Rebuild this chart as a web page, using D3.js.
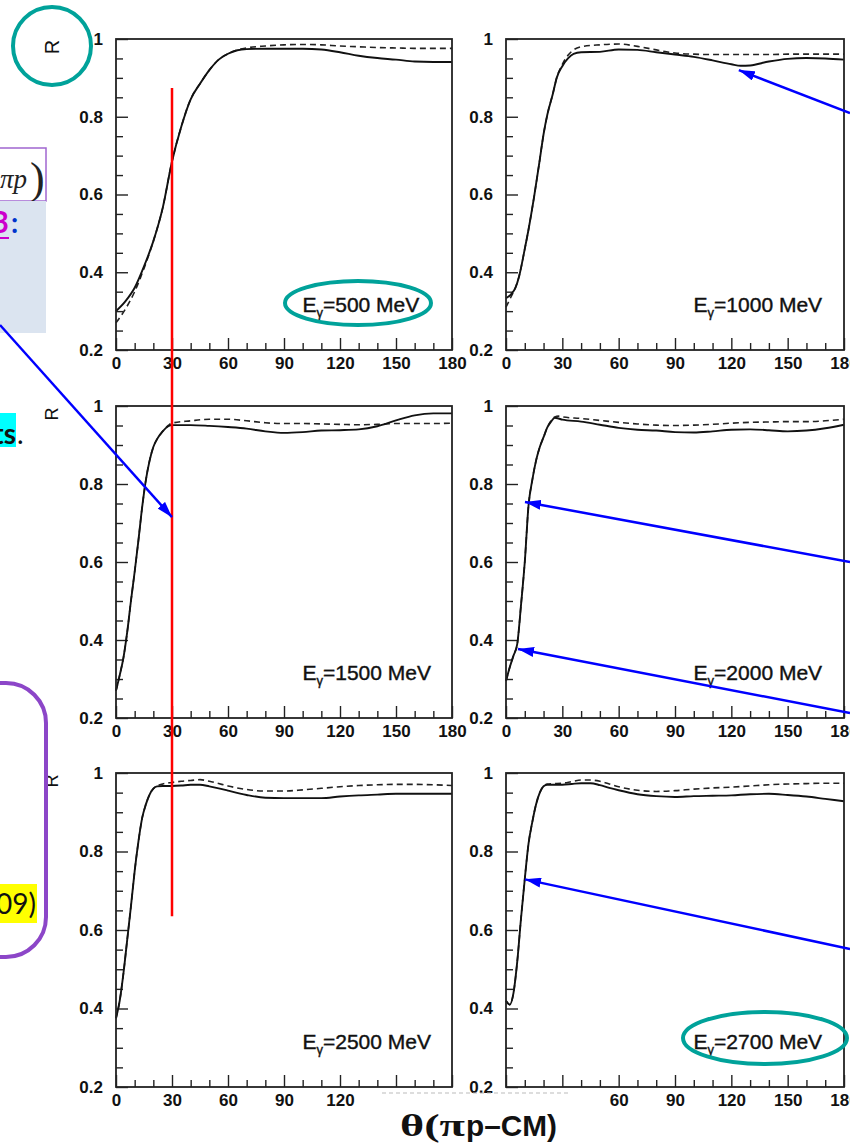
<!DOCTYPE html>
<html><head><meta charset="utf-8">
<script src="https://cdn.jsdelivr.net/npm/d3@7"></script>
<style>html,body{margin:0;padding:0;background:#fff;}svg{display:block;}</style>
</head><body>
<script>
// ---------- data ----------
const energies = [500, 1000, 1500, 2000, 2500, 2700];

const theta500  = [0,5,10,15,20,25,30,35,40,45,50,55,60,65,70,80,90,100,110,120,130,140,150,160,170,180];
const solid500  = [0.300,0.325,0.360,0.415,0.480,0.565,0.685,0.775,0.845,0.885,0.920,0.947,0.962,0.971,0.974,0.975,0.975,0.975,0.973,0.966,0.957,0.951,0.947,0.942,0.941,0.941];
const dashed500 = [0.270,0.305,0.350,0.410,0.480,0.565,0.685,0.775,0.845,0.885,0.920,0.947,0.962,0.972,0.977,0.982,0.985,0.986,0.985,0.982,0.980,0.978,0.977,0.976,0.976,0.976];

const theta1000  = [0,3,5,7,10,12,15,18,20,22,25,27,30,33,36,40,50,60,70,80,90,100,110,120,125,130,140,150,160,170,180];
const solid1000  = [0.333,0.345,0.360,0.390,0.460,0.510,0.595,0.690,0.755,0.805,0.860,0.900,0.930,0.950,0.962,0.966,0.967,0.973,0.972,0.966,0.960,0.954,0.945,0.935,0.931,0.932,0.942,0.949,0.951,0.950,0.947];
const dashed1000 = [0.310,0.340,0.360,0.390,0.460,0.510,0.595,0.690,0.755,0.805,0.860,0.900,0.935,0.958,0.972,0.980,0.985,0.987,0.981,0.972,0.964,0.961,0.960,0.960,0.960,0.960,0.960,0.961,0.961,0.961,0.961];

const theta1500  = [0,2,4,6,8,10,12,14,16,18,20,22,25,28,30,40,50,60,70,80,90,100,110,120,130,140,150,160,170,180];
const solid1500  = [0.270,0.310,0.355,0.420,0.500,0.575,0.655,0.740,0.810,0.860,0.895,0.915,0.935,0.948,0.951,0.951,0.949,0.946,0.942,0.935,0.931,0.933,0.937,0.938,0.940,0.948,0.963,0.976,0.981,0.981];
const dashed1500 = [0.270,0.310,0.355,0.420,0.500,0.575,0.655,0.740,0.810,0.860,0.895,0.915,0.935,0.950,0.956,0.962,0.966,0.966,0.962,0.957,0.955,0.955,0.954,0.953,0.952,0.953,0.955,0.955,0.955,0.956];

const theta2000  = [0,2,4,6,8,10,12,14,16,18,20,22,24,26,28,30,40,50,60,70,80,90,100,110,120,130,140,150,160,170,180];
const solid2000  = [0.295,0.330,0.360,0.390,0.490,0.600,0.745,0.810,0.860,0.895,0.920,0.945,0.960,0.970,0.968,0.965,0.960,0.952,0.944,0.939,0.937,0.933,0.932,0.935,0.939,0.940,0.938,0.935,0.937,0.943,0.952];
const dashed2000 = [0.295,0.330,0.360,0.390,0.490,0.600,0.745,0.810,0.860,0.895,0.920,0.945,0.962,0.972,0.974,0.972,0.968,0.963,0.958,0.954,0.951,0.950,0.951,0.953,0.956,0.958,0.959,0.960,0.960,0.962,0.966];

const theta2500  = [0,2,4,6,8,10,12,14,16,18,20,22,25,30,35,40,45,50,55,60,70,80,90,100,110,120,130,140,150,160,170,180];
const solid2500  = [0.375,0.420,0.490,0.575,0.660,0.750,0.825,0.885,0.920,0.945,0.960,0.966,0.967,0.967,0.968,0.970,0.970,0.966,0.961,0.955,0.944,0.937,0.936,0.936,0.936,0.940,0.943,0.945,0.947,0.947,0.947,0.947];
const dashed2500 = [0.375,0.420,0.490,0.575,0.660,0.750,0.825,0.885,0.920,0.945,0.960,0.967,0.972,0.976,0.979,0.981,0.983,0.979,0.973,0.967,0.958,0.954,0.954,0.957,0.961,0.965,0.968,0.970,0.971,0.971,0.970,0.968];

const theta2700  = [0,2,4,6,8,10,12,14,16,18,20,22,25,30,35,40,45,50,55,60,70,80,90,100,110,120,130,140,150,160,170,180];
const solid2700  = [0.420,0.410,0.440,0.520,0.630,0.730,0.820,0.875,0.920,0.950,0.966,0.970,0.970,0.970,0.972,0.974,0.974,0.969,0.962,0.956,0.946,0.941,0.939,0.941,0.942,0.943,0.946,0.947,0.944,0.940,0.934,0.928];
const dashed2700 = [0.420,0.410,0.440,0.520,0.630,0.730,0.820,0.875,0.920,0.950,0.966,0.972,0.973,0.974,0.978,0.982,0.982,0.979,0.972,0.965,0.956,0.953,0.955,0.959,0.962,0.964,0.967,0.970,0.972,0.973,0.974,0.974];

const thetaSets  = [theta500, theta1000, theta1500, theta2000, theta2500, theta2700];
const solidSets  = [solid500, solid1000, solid1500, solid2000, solid2500, solid2700];
const dashedSets = [dashed500, dashed1000, dashed1500, dashed2000, dashed2500, dashed2700];

const xMajorTicks = [0,30,60,90,120,150,180];
const xMinorTicks = [10,20,40,50,70,80,100,110,130,140,160,170];
const yMajorTicks = [0.2,0.4,0.6,0.8,1];
const yMinorTicks = [0.25,0.3,0.35,0.45,0.5,0.55,0.65,0.7,0.75,0.85,0.9,0.95];

// ---------- layout ----------
const W = 850, H = 1146;
const cols = [[116,452],[506,844]];
const rows = [[39,350],[406,718],[773,1087]];
const teal = "#00a29a", purple = "#8c46c8", blue = "#0000ff";

const svg = d3.select("body").append("svg").attr("width", W).attr("height", H);
svg.append("rect").attr("width", W).attr("height", H).attr("fill", "#fff");

const scales = [];
energies.forEach((E, i) => {
  const c = cols[i % 2], r = rows[Math.floor(i / 2)];
  const x = d3.scaleLinear().domain([0,180]).range(c);
  const y = d3.scaleLinear().domain([0.2,1]).range([r[1], r[0]]);
  scales.push({x, y});
  const g = svg.append("g");

  // minor ticks
  g.append("g").attr("transform", `translate(0,${r[1]})`)
    .call(d3.axisBottom(x).tickValues(xMinorTicks).tickSize(-7).tickFormat(""))
    .call(a => a.select(".domain").remove());
  g.append("g").attr("transform", `translate(${c[0]},0)`)
    .call(d3.axisLeft(y).tickValues(yMinorTicks).tickSize(-7).tickFormat(""))
    .call(a => a.select(".domain").remove());
  // major ticks
  const xa = g.append("g").attr("transform", `translate(0,${r[1]})`)
    .call(d3.axisBottom(x).tickValues(xMajorTicks).tickSize(-12).tickPadding(7).tickFormat(d3.format("d")));
  xa.select(".domain").remove();
  const ya = g.append("g").attr("transform", `translate(${c[0]},0)`)
    .call(d3.axisLeft(y).tickValues(yMajorTicks).tickSize(-12).tickPadding(13)
      .tickFormat(d => d === 1 ? "1" : d3.format(".1f")(d)));
  ya.select(".domain").remove();
  g.selectAll(".tick line").attr("stroke", "#222").attr("stroke-width", 1.4);
  g.selectAll(".tick text").attr("font-family", "Liberation Sans, Arial, sans-serif")
    .attr("font-size", 17).attr("font-weight", "bold").attr("fill", "#111");

  // curves
  const th = thetaSets[i];
  const line = d3.line().x(d => x(d[0])).y(d => y(d[1])).curve(d3.curveMonotoneX);
  g.append("path").datum(th.map((t, k) => [t, dashedSets[i][k]]))
    .attr("d", line).attr("fill", "none").attr("stroke", "#222")
    .attr("stroke-width", 1.6).attr("stroke-dasharray", "6,4");
  g.append("path").datum(th.map((t, k) => [t, solidSets[i][k]]))
    .attr("d", line).attr("fill", "none").attr("stroke", "#111").attr("stroke-width", 1.9);

  // frame
  g.append("rect").attr("x", c[0]).attr("y", r[0]).attr("width", c[1] - c[0]).attr("height", r[1] - r[0])
    .attr("fill", "none").attr("stroke", "#222").attr("stroke-width", 1.8);

  // energy label
  const lt = g.append("text").attr("x", c[0] + 0.555 * (c[1] - c[0])).attr("y", r[1] - 38.5)
    .attr("font-family", "Liberation Sans, Arial, sans-serif").attr("font-size", 21)
    .attr("fill", "#111").attr("stroke", "#111").attr("stroke-width", 0.4);
  lt.append("tspan").text("E");
  lt.append("tspan").attr("font-size", 13).attr("dy", 5).text("γ");
  lt.append("tspan").attr("dy", -5).text("=" + E + " MeV");

  // y title R
  if (i % 2 === 0) {
    svg.append("text").attr("transform", `translate(52,${r[0] + 8}) rotate(-90)`)
      .attr("text-anchor", "middle").attr("dominant-baseline", "central")
      .attr("font-family", "Liberation Sans, Arial, sans-serif").attr("font-size", i === 0 ? 20 : 18)
      .attr("fill", "#111").text("R");
  }
});

// ---------- slide annotations ----------
// white text box covering bottom labels + axis title
svg.append("rect").attr("x", 380).attr("y", 1093).attr("width", 222).attr("height", 60).attr("fill", "#fff");
svg.append("line").attr("x1", 382).attr("x2", 570).attr("y1", 1093).attr("y2", 1093)
  .attr("stroke", "#bbb").attr("stroke-width", 1).attr("stroke-dasharray", "4,3");
svg.append("text").attr("x", 400).attr("y", 1136).attr("textLength", 65).attr("lengthAdjust", "spacingAndGlyphs")
  .attr("font-family", "Liberation Serif, serif").attr("font-weight", "bold").attr("font-size", 31)
  .attr("fill", "#111").text("θ(π");
svg.append("text").attr("x", 466).attr("y", 1136).attr("textLength", 91).attr("lengthAdjust", "spacingAndGlyphs")
  .attr("font-family", "Liberation Sans, Arial, sans-serif").attr("font-weight", "bold").attr("font-size", 30)
  .attr("fill", "#111").text("p–CM)");

// left side slide fragments
svg.append("rect").attr("x", -10).attr("y", 148).attr("width", 56).attr("height", 53)
  .attr("fill", "#fff").attr("stroke", "#a066d0").attr("stroke-width", 1.5);
svg.append("text").attr("x", 27).attr("y", 188).attr("text-anchor", "end")
  .attr("font-family", "Liberation Serif, serif").attr("font-style", "italic").attr("font-size", 27)
  .attr("fill", "#222").text("πp");
svg.append("text").attr("x", 30).attr("y", 193)
  .attr("font-family", "Liberation Serif, serif").attr("font-size", 44).attr("fill", "#222").text(")");
svg.append("rect").attr("x", 0).attr("y", 201).attr("width", 46).attr("height", 132).attr("fill", "#dbe4f0");
svg.append("text").attr("x", 9).attr("y", 233).attr("text-anchor", "end")
  .attr("font-family", "Lato, sans-serif").attr("font-weight", "bold").attr("font-size", 30)
  .attr("fill", "#cc00cc").text("3");
svg.append("line").attr("x1", 0).attr("x2", 9).attr("y1", 238).attr("y2", 238).attr("stroke", "#cc00cc").attr("stroke-width", 2);
svg.append("text").attr("x", 11).attr("y", 233)
  .attr("font-family", "Lato, sans-serif").attr("font-weight", "bold").attr("font-size", 28)
  .attr("fill", "#0033cc").text(":");

svg.append("rect").attr("x", 0).attr("y", 413).attr("width", 16).attr("height", 34).attr("fill", "#00ffff");
svg.append("text").attr("x", 16).attr("y", 444).attr("text-anchor", "end")
  .attr("font-family", "Lato, sans-serif").attr("font-weight", "bold").attr("font-size", 28)
  .attr("fill", "#111").text("ts");
svg.append("text").attr("x", 17).attr("y", 444)
  .attr("font-family", "Lato, sans-serif").attr("font-size", 28).attr("fill", "#111").text(".");

svg.append("rect").attr("x", -60).attr("y", 683).attr("width", 106).attr("height", 274).attr("rx", 40)
  .attr("fill", "none").attr("stroke", purple).attr("stroke-width", 4);
svg.append("rect").attr("x", 0).attr("y", 884).attr("width", 37).attr("height", 39).attr("fill", "#ffff00");
svg.append("text").attr("x", 36).attr("y", 914).attr("text-anchor", "end")
  .attr("font-family", "Lato, sans-serif").attr("font-size", 28).attr("fill", "#111").text("09)");

// teal highlight shapes
svg.append("circle").attr("cx", 52).attr("cy", 46).attr("r", 39)
  .attr("fill", "none").attr("stroke", teal).attr("stroke-width", 4);
svg.append("ellipse").attr("cx", 358).attr("cy", 303).attr("rx", 73).attr("ry", 22)
  .attr("fill", "none").attr("stroke", teal).attr("stroke-width", 4);
svg.append("ellipse").attr("cx", 765).attr("cy", 1038).attr("rx", 82).attr("ry", 26)
  .attr("fill", "none").attr("stroke", teal).attr("stroke-width", 4);

// red vertical line at theta = 30 (left column)
const s1 = scales[0], s5 = scales[4];
svg.append("line").attr("x1", s1.x(30)).attr("x2", s1.x(30))
  .attr("y1", s1.y(0.874)).attr("y2", s5.y(0.635))
  .attr("stroke", "#ff0000").attr("stroke-width", 2.5);

// blue arrows
svg.append("defs").append("marker").attr("id", "ah").attr("viewBox", "0 0 16 10")
  .attr("refX", 16).attr("refY", 5).attr("markerWidth", 16).attr("markerHeight", 10)
  .attr("markerUnits", "userSpaceOnUse").attr("orient", "auto")
  .append("path").attr("d", "M0,0L16,5L0,10z").attr("fill", blue);
const arrows = [
  {from: [0, 325],   panel: 2, tip: [30, 0.715]},
  {from: [850, 113], panel: 1, tip: [124, 0.92]},
  {from: [850, 562], panel: 3, tip: [10.1, 0.754]},
  {from: [850, 713], panel: 3, tip: [6.4, 0.377]},
  {from: [850, 949], panel: 5, tip: [10.1, 0.729]}
];
arrows.forEach(a => {
  const s = scales[a.panel];
  svg.append("line").attr("x1", a.from[0]).attr("y1", a.from[1])
    .attr("x2", s.x(a.tip[0])).attr("y2", s.y(a.tip[1]))
    .attr("stroke", blue).attr("stroke-width", 2.5).attr("marker-end", "url(#ah)");
});
</script>
</body></html>
